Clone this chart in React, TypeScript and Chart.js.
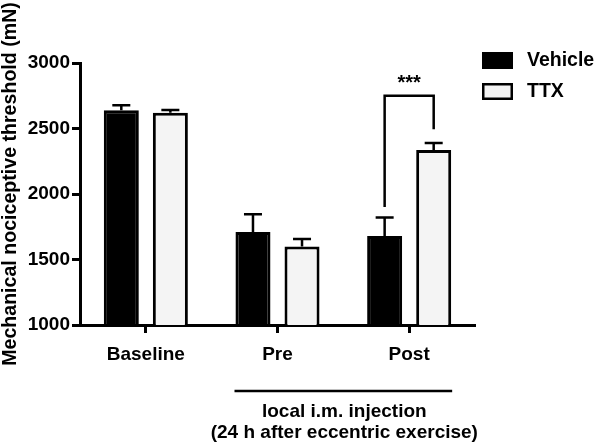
import React, { useEffect, useRef } from "react";
import { Chart, registerables } from "chart.js";

Chart.register(...registerables);

const categories = ["Baseline", "Pre", "Post"];
const vehicleMeans = [2640, 1710, 1680];
const vehicleErr = [37, 135, 140];
const ttxMeans = [2620, 1600, 2335];
const ttxErr = [21, 57, 55];
const seriesNames = ["Vehicle", "TTX"];
const yTicks = [1000, 1500, 2000, 2500, 3000];
const yTitle = "Mechanical nociceptive threshold (mN)";
const groupLabel = ["local i.m. injection", "(24 h after eccentric exercise)"];
const sigLabel = "***";
// bracket (data values): left foot, top, right foot
const bracketValues = [1900, 2750, 2495];

const FONT = '"Liberation Sans", Arial, sans-serif';
const TTX_FILL = "#f4f4f4";

const errPlugin = {
  id: "extras",
  afterDatasetsDraw(chart: any) {
    const ctx = chart.ctx;
    const y = chart.scales.y;
    const x = chart.scales.x;
    const errs = [vehicleErr, ttxErr];
    const means = [vehicleMeans, ttxMeans];
    ctx.save();
    ctx.strokeStyle = "#000";
    ctx.lineWidth = 2.5;
    ctx.lineCap = "butt";
    // error bars (upper only)
    for (let d = 0; d < 2; d++) {
      const meta = chart.getDatasetMeta(d);
      meta.data.forEach((el: any, i: number) => {
        const top = y.getPixelForValue(means[d][i] + errs[d][i]);
        ctx.beginPath();
        ctx.moveTo(el.x, el.y);
        ctx.lineTo(el.x, top);
        ctx.moveTo(el.x - 9, top);
        ctx.lineTo(el.x + 9, top);
        ctx.stroke();
      });
    }
    // significance bracket on Post
    const m0 = chart.getDatasetMeta(0).data[2];
    const m1 = chart.getDatasetMeta(1).data[2];
    const yl = y.getPixelForValue(bracketValues[0]);
    const yt = y.getPixelForValue(bracketValues[1]);
    const yr = y.getPixelForValue(bracketValues[2]);
    ctx.beginPath();
    ctx.moveTo(m0.x, yl);
    ctx.lineTo(m0.x, yt);
    ctx.lineTo(m1.x, yt);
    ctx.lineTo(m1.x, yr);
    ctx.stroke();
    ctx.fillStyle = "#000";
    ctx.font = `bold 20px ${FONT}`;
    ctx.textAlign = "center";
    ctx.textBaseline = "middle";
    ctx.fillText(sigLabel, (m0.x + m1.x) / 2, yt - 12);

    // group underline below Pre / Post
    const xPre = x.getPixelForValue(1);
    const xPost = x.getPixelForValue(2);
    const lx0 = xPre - 43;
    const lx1 = xPost + 43;
    const ly = 391;
    ctx.beginPath();
    ctx.moveTo(lx0, ly);
    ctx.lineTo(lx1, ly);
    ctx.stroke();
    ctx.font = `bold 19px ${FONT}`;
    const cx = (lx0 + lx1) / 2 + 1;
    ctx.fillText(groupLabel[0], cx, 412);
    ctx.fillText(groupLabel[1], cx, 433);

    // y title
    ctx.save();
    ctx.font = `bold 19.6px ${FONT}`;
    ctx.translate(11, 184);
    ctx.rotate(-Math.PI / 2);
    ctx.fillText(yTitle, 0, 0);
    ctx.restore();

    // legend
    ctx.font = `bold 19.5px ${FONT}`;
    const fills = ["#000", TTX_FILL];
    for (let d = 0; d < 2; d++) {
      const by = 52 + d * 31;
      ctx.fillStyle = fills[d];
      ctx.fillRect(482, by, 31, 17);
      ctx.strokeRect(483.25, by + 1.25, 28.5, 14.5);
      ctx.fillStyle = "#000";
      ctx.textAlign = "left";
      ctx.fillText(seriesNames[d], 527, by + 9);
    }
    ctx.restore();
  },
};

export default function App() {
  const ref = useRef<HTMLCanvasElement>(null);
  useEffect(() => {
    if (!ref.current) return;
    const chart = new Chart(ref.current, {
      type: "bar",
      data: {
        labels: categories,
        datasets: [
          {
            label: seriesNames[0],
            data: vehicleMeans,
            backgroundColor: "#000",
            borderColor: "#000",
            borderWidth: 3,
          },
          {
            label: seriesNames[1],
            data: ttxMeans,
            backgroundColor: TTX_FILL,
            borderColor: "#000",
            borderWidth: 3,
          },
        ],
      },
      options: {
        responsive: false,
        animation: false,
        datasets: { bar: { categoryPercentage: 0.745, barPercentage: 0.714 } },
        layout: { padding: { left: 0, top: 63, right: 125, bottom: 0 } },
        plugins: { legend: { display: false }, tooltip: { enabled: false } },
        scales: {
          x: {
            afterFit: (s: any) => {
              s.height = 121;
            },
            grid: {
              offset: false,
              drawOnChartArea: false,
              tickLength: 8,
              tickWidth: 3,
              tickColor: "#000",
            },
            border: { color: "#000", width: 3 },
            ticks: {
              color: "#000",
              padding: 10,
              font: { family: FONT, size: 19, weight: "bold" },
            },
          },
          y: {
            min: 1000,
            max: 3000,
            afterFit: (s: any) => {
              s.width = 80;
            },
            afterBuildTicks: (s: any) => {
              s.ticks = yTicks.map((v) => ({ value: v }));
            },
            grid: {
              drawOnChartArea: false,
              tickLength: 8,
              tickWidth: 3,
              tickColor: "#000",
            },
            border: { color: "#000", width: 3 },
            ticks: {
              color: "#000",
              padding: 2,
              callback: (v: any) => String(v),
              font: { family: FONT, size: 19, weight: "bold" },
            },
          },
        },
      },
      plugins: [errPlugin],
    } as any);
    return () => chart.destroy();
  }, []);
  return (
    <div style={{ position: "fixed", left: 0, top: 0, width: 600, height: 446, background: "#fff" }}>
      <canvas ref={ref} width={600} height={446} />
    </div>
  );
}
